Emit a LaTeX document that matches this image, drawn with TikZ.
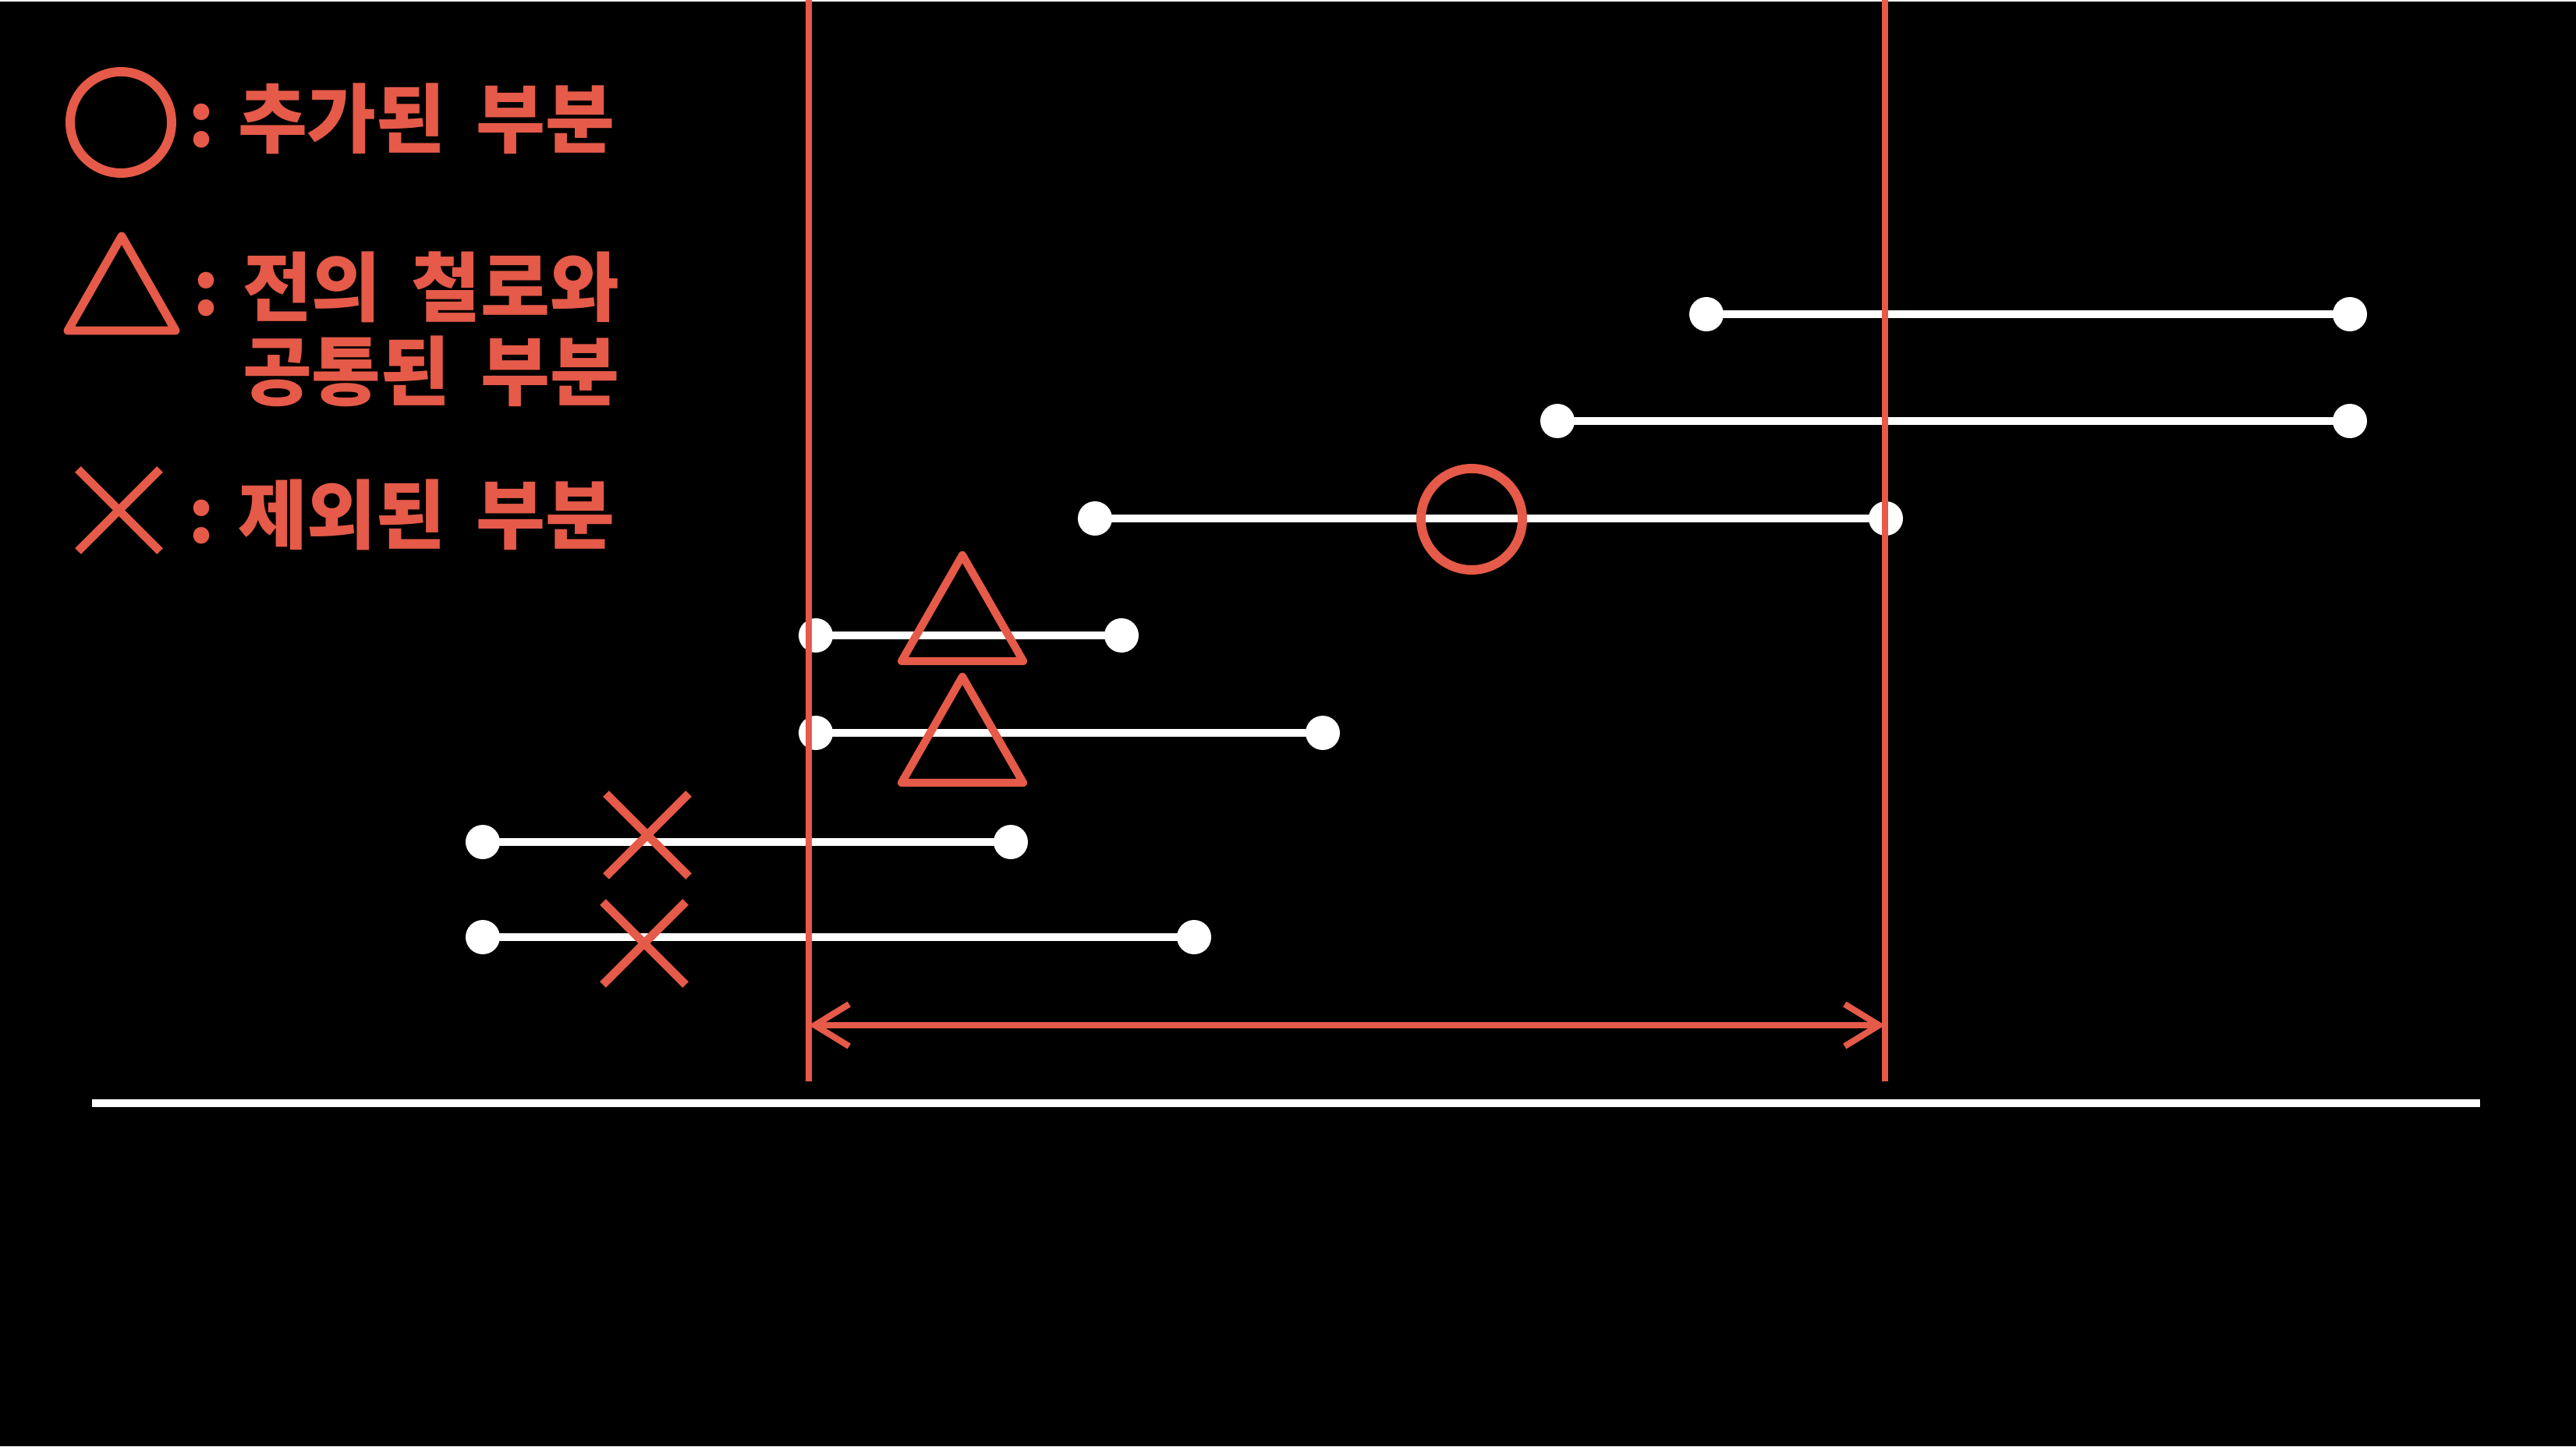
\documentclass[tikz,border=0pt]{standalone}
\usepackage{fontspec}
\newfontfamily\korfont{Noto Sans CJK KR}
\usetikzlibrary{arrows.meta}

\definecolor{mkred}{RGB}{229,90,72}

\begin{document}
\begin{tikzpicture}[
  bar/.style={white, line width=2.6pt},
  enddot/.style={white},
  markline/.style={mkred, line width=2.9pt, line join=round},
  legtext/.style={mkred, inner sep=0pt, font=\korfont\bfseries\fontsize{27.5}{30.7}\selectfont}
]

  \useasboundingbox (0,0) rectangle (33.03,18.55);
  \fill[black] (0,0) rectangle (33.03,18.55);
  \fill[white] (0,18.53) rectangle (33.03,18.55);

  % legend
  \draw[mkred, line width=3.4pt] (1.55,16.98) circle (0.65);
  \node[legtext, anchor=east] (addtxt) at (7.89,17.03) {: 추가된\hspace{0.4em}부분};

  \draw[markline, line width=3.1pt] (1.56,15.52) -- (2.25,14.31) -- (0.87,14.31) -- cycle;
  \node[legtext, anchor=east, align=right] (sametxt) at (7.95,14.33) {: 전의\hspace{0.4em}철로와\\공통된\hspace{0.4em}부분};

  \draw[mkred, line width=3.1pt] (1.00,11.48) -- (2.05,12.53);
  \draw[mkred, line width=3.1pt] (1.00,12.53) -- (2.05,11.48);
  \node[legtext, anchor=east] (deltxt) at (7.89,11.95) {: 제외된\hspace{0.4em}부분};

  % route segments
  \coordinate (s1a) at (21.88,14.52); \coordinate (s1b) at (30.13,14.52);
  \coordinate (s2a) at (19.97,13.15); \coordinate (s2b) at (30.13,13.15);
  \coordinate (s3a) at (14.04,11.90); \coordinate (s3b) at (24.18,11.90);
  \coordinate (s4a) at (10.46,10.40); \coordinate (s4b) at (14.38,10.40);
  \coordinate (s5a) at (10.46,9.15);  \coordinate (s5b) at (16.96,9.15);
  \coordinate (s6a) at (6.19,7.75);   \coordinate (s6b) at (12.96,7.75);
  \coordinate (s7a) at (6.19,6.53);   \coordinate (s7b) at (15.31,6.53);

  \draw[bar] (s1a) -- (s1b);
  \draw[bar] (s2a) -- (s2b);
  \draw[bar] (s3a) -- (s3b);
  \draw[bar] (s4a) -- (s4b);
  \draw[bar] (s5a) -- (s5b);
  \draw[bar] (s6a) -- (s6b);
  \draw[bar] (s7a) -- (s7b);

  \fill[enddot] (s1a) circle (0.22) (s1b) circle (0.22);
  \fill[enddot] (s2a) circle (0.22) (s2b) circle (0.22);
  \fill[enddot] (s3a) circle (0.22) (s3b) circle (0.22);
  \fill[enddot] (s4a) circle (0.22) (s4b) circle (0.22);
  \fill[enddot] (s5a) circle (0.22) (s5b) circle (0.22);
  \fill[enddot] (s6a) circle (0.22) (s6b) circle (0.22);
  \fill[enddot] (s7a) circle (0.22) (s7b) circle (0.22);

  % markers on the segments
  \draw[mkred, line width=3.4pt] (18.87,11.89) circle (0.65);
  \draw[markline] (12.34,11.43) -- (13.12,10.07) -- (11.56,10.07) -- cycle;
  \draw[markline] (12.34,9.87) -- (13.12,8.51) -- (11.56,8.51) -- cycle;
  \draw[mkred, line width=3.1pt] (7.77,7.31) -- (8.83,8.37);
  \draw[mkred, line width=3.1pt] (7.77,8.37) -- (8.83,7.31);
  \draw[mkred, line width=3.1pt] (7.73,5.92) -- (8.79,6.98);
  \draw[mkred, line width=3.1pt] (7.73,6.98) -- (8.79,5.92);

  % range limits
  \coordinate (lefttop) at (10.37,18.55);  \coordinate (leftbot) at (10.37,4.68);
  \coordinate (righttop) at (24.17,18.55); \coordinate (rightbot) at (24.17,4.68);
  \draw[mkred, line width=2.3pt] (lefttop) -- (leftbot);
  \draw[mkred, line width=2.3pt] (righttop) -- (rightbot);

  \coordinate (arrl) at (10.37,5.40);
  \coordinate (arrr) at (24.17,5.40);
  \draw[mkred, line width=2.3pt, {Straight Barb[length=4.4mm,width=5.4mm]}-{Straight Barb[length=4.4mm,width=5.4mm]}] (arrl) -- (arrr);

  % ground line
  \coordinate (gl) at (1.18,4.40);
  \coordinate (gr) at (31.80,4.40);
  \draw[white, line width=3.1pt] (gl) -- (gr);

\end{tikzpicture}
\end{document}
